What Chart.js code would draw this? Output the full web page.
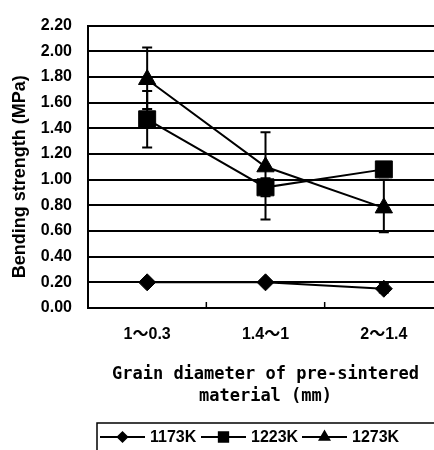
<!DOCTYPE html>
<html>
<head>
<meta charset="utf-8">
<script src="https://cdn.jsdelivr.net/npm/chart.js@4/dist/chart.umd.min.js"></script>
<style>
  html, body { margin: 0; padding: 0; background: #fff; overflow: hidden; }
  #wrap { width: 460px; height: 450px; }
</style>
</head>
<body>
<div id="wrap"><canvas id="myChart" width="460" height="450"></canvas></div>
<script>
'use strict';

// data
const categories = ['1～0.3', '1.4～1', '2～1.4'];
const seriesNames = ['1173K', '1223K', '1273K'];
const val1173 = [0.20, 0.20, 0.15];
const val1223 = [1.47, 0.94, 1.08];
const val1273 = [1.78, 1.10, 0.78];
// error bars (low / high ends), null = none
const low1173 = [null, null, 0.12];
const high1173 = [null, null, 0.19];
const low1223 = [1.25, 0.87, null];
const high1223 = [1.69, 1.01, null];
const low1273 = [1.55, 0.69, 0.59];
const high1273 = [2.03, 1.37, 1.00];
const yTicks = [0, 0.2, 0.4, 0.6, 0.8, 1.0, 1.2, 1.4, 1.6, 1.8, 2.0, 2.2];

const ink = '#000';
const styles = ['rectRot', 'rect', 'triangle'];
const radii = [8.5, 12, 10];

const makeSet = (i, values, low, high) => ({
    label: seriesNames[i],
    data: values,
    errLow: low,
    errHigh: high,
    borderColor: ink,
    backgroundColor: ink,
    borderWidth: 2,
    pointStyle: styles[i],
    pointRadius: radii[i],
    pointBorderWidth: 1,
    tension: 0,
});

// error bars, drawn under the lines
const errorBars = {
    id: 'errorBars',
    beforeDatasetsDraw(chart) {
        const { ctx, scales: { x, y } } = chart;
        ctx.save();
        ctx.strokeStyle = ink;
        ctx.lineWidth = 2;
        chart.data.datasets.forEach(ds => {
            ds.data.forEach((v, j) => {
                if (ds.errLow[j] === null) return;
                const px = x.getPixelForValue(j);
                const top = y.getPixelForValue(ds.errHigh[j]);
                const bot = y.getPixelForValue(ds.errLow[j]);
                ctx.beginPath();
                ctx.moveTo(px, top);
                ctx.lineTo(px, bot);
                ctx.moveTo(px - 5, top);
                ctx.lineTo(px + 5, top);
                ctx.moveTo(px - 5, bot);
                ctx.lineTo(px + 5, bot);
                ctx.stroke();
            });
        });
        ctx.restore();
    },
};

// small inner ticks on the category axis + boxed legend
const extras = {
    id: 'extras',
    afterDraw(chart) {
        const { ctx, chartArea, scales: { x } } = chart;
        ctx.save();
        ctx.strokeStyle = ink;
        ctx.lineWidth = 1.5;
        for (let i = 0; i < categories.length - 1; i++) {
            const px = (x.getPixelForValue(i) + x.getPixelForValue(i + 1)) / 2;
            ctx.beginPath();
            ctx.moveTo(px, chartArea.bottom);
            ctx.lineTo(px, chartArea.bottom - 6);
            ctx.stroke();
        }

        // legend
        ctx.lineWidth = 1.5;
        ctx.strokeRect(97, 423, 400, 60);
        ctx.font = 'bold 16px "Liberation Sans", Arial, sans-serif';
        ctx.textBaseline = 'middle';
        ctx.fillStyle = ink;
        const cy = 437;
        chart.data.datasets.forEach((ds, i) => {
            const x0 = 100 + i * 101;
            ctx.lineWidth = 2;
            ctx.beginPath();
            ctx.moveTo(x0, cy);
            ctx.lineTo(x0 + 45, cy);
            ctx.stroke();
            Chart.helpers.drawPoint(ctx, {
                pointStyle: ds.pointStyle,
                radius: ds.pointRadius * 0.55,
                rotation: 0,
                borderWidth: 1,
            }, x0 + 22.5, cy);
            ctx.fillText(ds.label, x0 + 50, cy + 1);
        });
        ctx.restore();
    },
};

const ctx = document.getElementById('myChart').getContext('2d');
const config = {
    type: 'line',
    data: {
        labels: categories,
        datasets: [
            makeSet(0, val1173, low1173, high1173),
            makeSet(1, val1223, low1223, high1223),
            makeSet(2, val1273, low1273, high1273),
        ],
    },
    options: {
        responsive: false,
        animation: false,
        layout: {
            padding: { top: 17, right: 17, bottom: 42, left: 0 },
        },
        plugins: {
            legend: { display: false },
            tooltip: { enabled: false },
        },
        scales: {
            x: {
                offset: true,
                afterFit: scale => { scale.height = 100; },
                grid: { display: false, drawTicks: false },
                border: { display: true, color: ink, width: 2 },
                ticks: {
                    color: ink,
                    padding: 17,
                    font: { family: '"Liberation Sans", "Noto Sans CJK JP", sans-serif', size: 16, weight: 'bold' },
                },
                title: {
                    display: true,
                    text: ['Grain diameter of pre-sintered', 'material (mm)'],
                    color: ink,
                    padding: { top: 10, bottom: 0 },
                    font: { family: '"DejaVu Sans Mono", monospace', size: 17, weight: 'bold', lineHeight: 1.3 },
                },
            },
            y: {
                min: 0,
                max: 2.2,
                afterFit: scale => { scale.width = 88; },
                afterBuildTicks: scale => { scale.ticks = yTicks.map(v => ({ value: v })); },
                grid: { color: ink, lineWidth: 2, drawTicks: false },
                border: { display: true, color: ink, width: 2 },
                ticks: {
                    color: ink,
                    padding: 16,
                    callback: v => Number(v).toFixed(2),
                    font: { family: '"Liberation Sans", Arial, sans-serif', size: 16, weight: 'bold' },
                },
                title: {
                    display: true,
                    // trailing spaces nudge the text down to where it sits in the original
                    text: 'Bending strength (MPa)    ',
                    color: ink,
                    padding: { top: 9, bottom: 0 },
                    font: { family: '"Liberation Sans", Arial, sans-serif', size: 18, weight: 'bold' },
                },
            },
        },
    },
    plugins: [errorBars, extras],
};
const bendingChart = new Chart(ctx, config);
</script>
</body>
</html>
